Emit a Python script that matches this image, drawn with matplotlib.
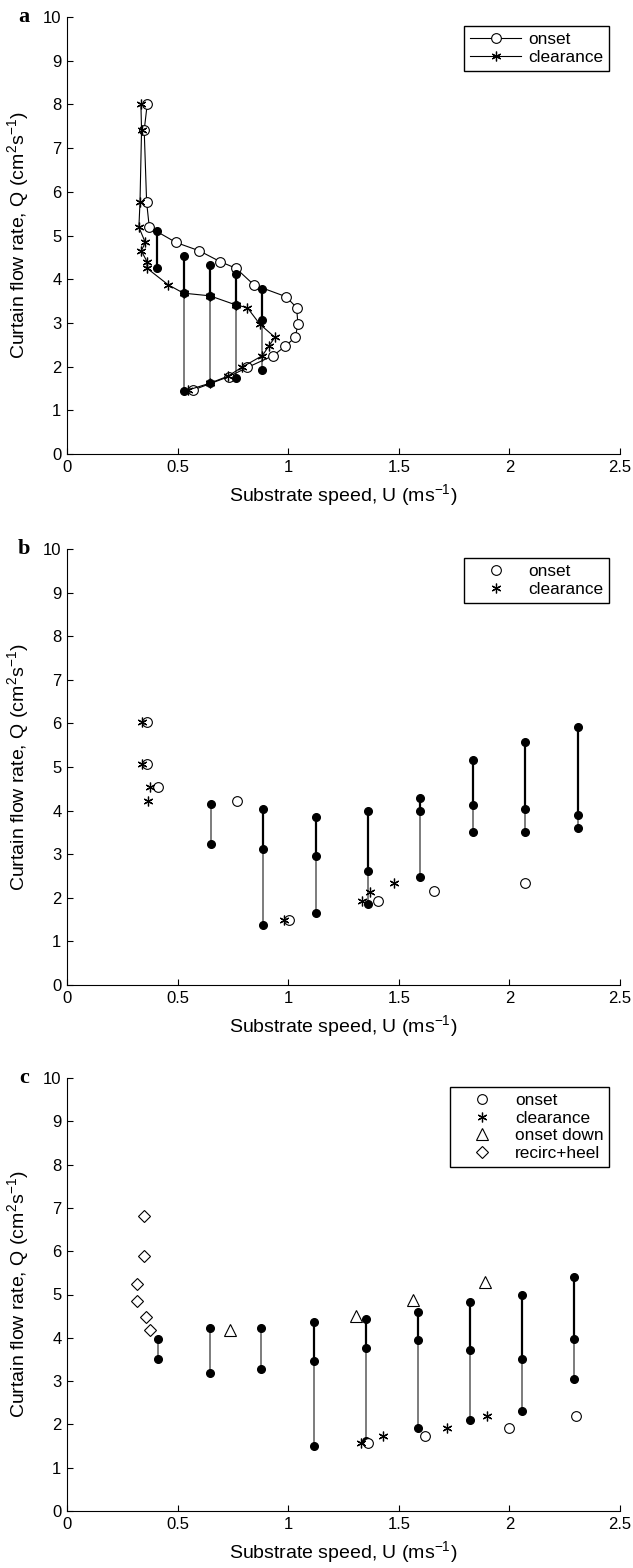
import numpy as np
import matplotlib
matplotlib.use('Agg')
import matplotlib.pyplot as plt
from matplotlib.lines import Line2D
from matplotlib.ticker import FormatStrFormatter

nan = np.nan

# ---------------- Panel a ----------------
a_onset_x = [0.363, 0.349, 0.360, 0.372, 0.493, 0.598, 0.693, 0.764, 0.845, 0.990,
             1.038, 1.044, 1.032, 0.985, 0.932, 0.815, 0.731, 0.568]
a_onset_y = [8.02, 7.41, 5.76, 5.19, 4.84, 4.65, 4.40, 4.25, 3.87, 3.60,
             3.35, 2.97, 2.67, 2.46, 2.25, 1.98, 1.77, 1.46]
a_clear_x = [0.334, 0.337, 0.330, 0.325, 0.354, 0.336, 0.362, 0.362, 0.458, 0.527,
             0.646, 0.764, 0.815, 0.872, 0.940, 0.911, 0.883, 0.789, 0.727, 0.646, 0.545]
a_clear_y = [8.02, 7.41, 5.76, 5.19, 4.84, 4.65, 4.40, 4.25, 3.87, 3.68,
             3.62, 3.41, 3.35, 2.97, 2.67, 2.46, 2.25, 1.98, 1.78, 1.62, 1.46]
a_bar_x = [0.408, 0.527, 0.646, 0.764, 0.883]
a_bar_top = [5.11, 4.54, 4.33, 4.12, 3.78]
a_bar_mid = [4.25, 3.68, 3.62, 3.41, 3.07]
a_bar_low = [nan, 1.44, 1.62, 1.73, 1.92]

# ---------------- Panel b ----------------
b_onset_x = [0.363, 0.360, 0.410, 0.768, 1.005, 1.408, 1.658, 2.071]
b_onset_y = [6.03, 5.07, 4.54, 4.21, 1.48, 1.92, 2.16, 2.34]
b_clear_x = [0.340, 0.340, 0.375, 0.365, 0.982, 1.332, 1.372, 1.478]
b_clear_y = [6.03, 5.07, 4.54, 4.21, 1.48, 1.92, 2.14, 2.35]
b_bar_x = [0.649, 0.884, 1.124, 1.360, 1.597, 1.835, 2.071, 2.309]
b_bar_top = [nan, 4.04, 3.85, 3.98, 4.29, 5.17, 5.57, 5.91]
b_bar_mid = [4.16, 3.11, 2.96, 2.61, 4.00, 4.13, 4.04, 3.91]
b_bar_low = [3.23, 1.38, 1.66, 1.86, 2.48, 3.50, 3.50, 3.60]

# ---------------- Panel c ----------------
c_onset_x = [1.36, 1.62, 2.00, 2.30]
c_onset_y = [1.57, 1.73, 1.92, 2.20]
c_clear_x = [1.33, 1.43, 1.72, 1.90]
c_clear_y = [1.57, 1.73, 1.92, 2.20]
c_down_x = [0.739, 1.305, 1.562, 1.891]
c_down_y = [4.19, 4.51, 4.88, 5.28]
c_recirc_x = [0.347, 0.347, 0.316, 0.316, 0.357, 0.376]
c_recirc_y = [6.82, 5.88, 5.25, 4.85, 4.48, 4.17]
c_bar_x = [0.410, 0.646, 0.879, 1.116, 1.351, 1.586, 1.822, 2.055, 2.293]
c_bar_top = [nan, nan, nan, 4.36, 4.44, 4.60, 4.82, 5.00, 5.41]
c_bar_mid = [3.98, 4.23, 4.23, 3.46, 3.77, 3.95, 3.71, 3.52, 3.98]
c_bar_low = [3.52, 3.18, 3.28, 1.50, 1.62, 1.92, 2.10, 2.32, 3.05]

x_ticks = [0, 0.5, 1, 1.5, 2, 2.5]
y_ticks = list(range(0, 11))
xlabel = 'Substrate speed, U (ms$^{-1}$)'
ylabel = 'Curtain flow rate, Q (cm$^2$s$^{-1}$)'

plt.rcParams['font.family'] = ['Liberation Sans', 'DejaVu Sans']
plt.rcParams['mathtext.fontset'] = 'custom'
plt.rcParams['mathtext.rm'] = 'Liberation Sans'
plt.rcParams['mathtext.it'] = 'Liberation Sans:italic'
plt.rcParams['mathtext.bf'] = 'Liberation Sans:bold'

W, H = 633, 1568
fig = plt.figure(figsize=(W / 100, H / 100), dpi=100)

STAR = (6, 2, 0)
TICK_FS = 12
LABEL_FS = 14
LEG_FS = 12.4


def make_axes(top_px, bottom_px, letter):
    ax = fig.add_axes([67 / W, 1 - bottom_px / H, 553 / W, (bottom_px - top_px) / H])
    ax.set_xlim(0, 2.5)
    ax.set_ylim(0, 10)
    ax.set_xticks(x_ticks)
    ax.set_yticks(y_ticks)
    ax.xaxis.set_major_formatter(FormatStrFormatter('%g'))
    ax.spines['top'].set_visible(False)
    ax.spines['right'].set_visible(False)
    for s in ('left', 'bottom'):
        ax.spines[s].set_linewidth(0.8)
    ax.tick_params(direction='in', length=4, width=0.8, labelsize=TICK_FS, pad=4)
    ax.set_xlabel(xlabel, fontsize=LABEL_FS)
    ax.set_ylabel(ylabel, fontsize=LABEL_FS)
    ax.yaxis.set_label_coords(-0.066, 0.5)
    ax.xaxis.set_label_coords(0.5, -0.064)
    fig.text(24 / W, 1 - top_px / H, letter, family='Liberation Serif',
             fontweight='bold', fontsize=16, ha='center', va='center')
    return ax


def draw_bars(ax, xs, tops, mids, lows):
    for x, t, m, l in zip(xs, tops, mids, lows):
        if not np.isnan(t):
            ax.plot([x, x], [t, m], color='k', lw=1.6, zorder=3)
        if not np.isnan(l):
            ax.plot([x, x], [m, l], color='0.35', lw=1.1, zorder=3)
        ys = [v for v in (t, m, l) if not np.isnan(v)]
        ax.plot([x] * len(ys), ys, 'o', color='k', ms=5.5, zorder=5)


def legend(ax, handles, labels):
    leg = ax.legend(handles, labels, loc='upper right', bbox_to_anchor=(0.981, 0.979),
                    borderaxespad=0, fancybox=False, edgecolor='k', framealpha=1,
                    handlelength=3.0, handletextpad=0.4, borderpad=0.35,
                    labelspacing=0.15, fontsize=LEG_FS)
    leg.get_frame().set_linewidth(1.0)


onset_kw = dict(marker='o', mfc='white', mec='k', ms=7, mew=0.8)
clear_kw = dict(marker=STAR, mec='k', ms=7, mew=0.9)

# Panel a
ax = make_axes(17, 454, 'a')
ax.plot(a_onset_x, a_onset_y, color='k', lw=0.8, zorder=4, **onset_kw)
ax.plot(a_clear_x, a_clear_y, color='k', lw=0.8, zorder=4, **clear_kw)
draw_bars(ax, a_bar_x, a_bar_top, a_bar_mid, a_bar_low)
legend(ax, [Line2D([], [], color='k', lw=0.8, **onset_kw),
            Line2D([], [], color='k', lw=0.8, **clear_kw)], ['onset', 'clearance'])

# Panel b
ax = make_axes(549, 985, 'b')
draw_bars(ax, b_bar_x, b_bar_top, b_bar_mid, b_bar_low)
ax.plot(b_onset_x, b_onset_y, ls='none', zorder=6, **onset_kw)
ax.plot(b_clear_x, b_clear_y, ls='none', zorder=6, **clear_kw)
legend(ax, [Line2D([], [], ls='none', **onset_kw),
            Line2D([], [], ls='none', **clear_kw)], ['onset', 'clearance'])

# Panel c
ax = make_axes(1078, 1511, 'c')
draw_bars(ax, c_bar_x, c_bar_top, c_bar_mid, c_bar_low)
down_kw = dict(marker='^', mfc='white', mec='k', ms=8, mew=0.8)
rec_kw = dict(marker='D', mfc='white', mec='k', ms=6.5, mew=0.8)
ax.plot(c_onset_x, c_onset_y, ls='none', zorder=6, **onset_kw)
ax.plot(c_clear_x, c_clear_y, ls='none', zorder=6, **clear_kw)
ax.plot(c_down_x, c_down_y, ls='none', zorder=6, **down_kw)
ax.plot(c_recirc_x, c_recirc_y, ls='none', zorder=6, **rec_kw)
legend(ax, [Line2D([], [], ls='none', **onset_kw),
            Line2D([], [], ls='none', **clear_kw),
            Line2D([], [], ls='none', **down_kw),
            Line2D([], [], ls='none', **rec_kw)],
       ['onset', 'clearance', 'onset down', 'recirc+heel'])

fig.savefig('out.png', dpi=100)
